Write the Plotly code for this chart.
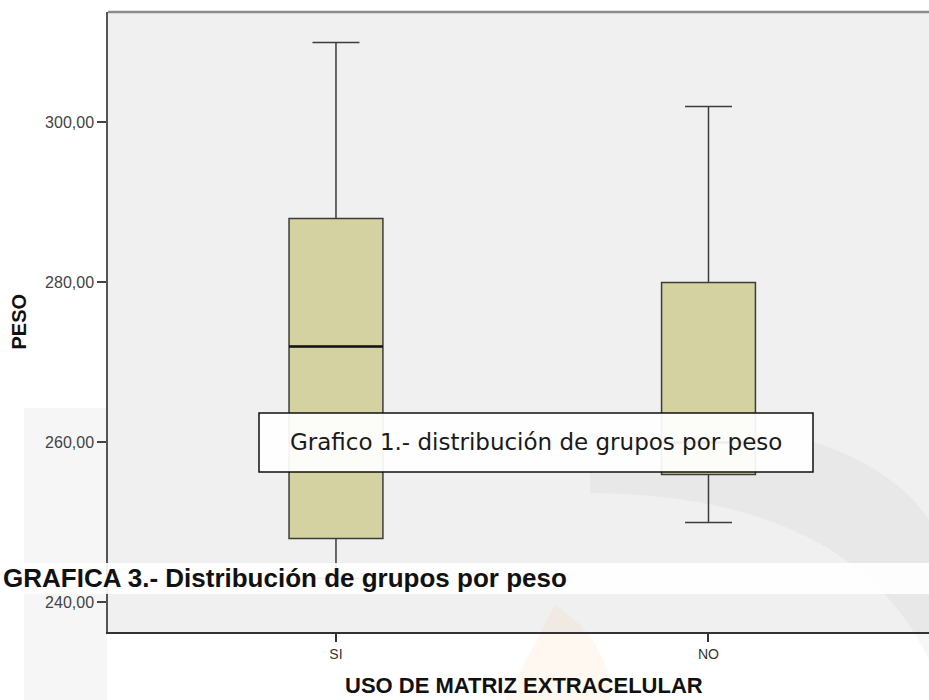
import plotly.graph_objects as go

# ---- data ----
categories = ["SI", "NO"]
upper_whisker = [310, 302]
q3_values = [288, 280]
median_values = [272, 260]
q1_values = [248, 256]
lower_whisker = [243, 250]
y_tick_values = [240, 260, 280, 300]
y_tick_labels = ["240,00", "260,00", "280,00", "300,00"]

W, H = 929, 700
ML, MR, MT, MB = 108, 0, 12, 68
PW = W - ML - MR
PH = H - MT - MB


def px(x):
    return (x - ML) / PW


def py(y):
    return (H - MB - y) / PH


box_width = 0.252
xpos = list(range(len(categories)))

fig = go.Figure()
fig.add_trace(go.Box(
    x=xpos,
    q1=q1_values, median=median_values, q3=q3_values,
    lowerfence=lower_whisker, upperfence=upper_whisker,
    width=box_width, whiskerwidth=0.5,
    fillcolor="#D5D2A2",
    line=dict(color="#3C3C3C", width=1.5),
    boxpoints=False, hoverinfo="skip", showlegend=False,
))
for i, m in zip(xpos, median_values):
    fig.add_trace(go.Scatter(
        x=[i - box_width / 2, i + box_width / 2], y=[m, m],
        mode="lines", line=dict(color="#151515", width=2.5),
        hoverinfo="skip", showlegend=False,
    ))

shapes = []
# plot background
shapes.append(dict(type="rect", xref="paper", yref="paper", x0=0, x1=1, y0=0, y1=1,
                   fillcolor="#F0F0F0", line=dict(width=0), layer="below"))
# faint watermark pieces
shapes.append(dict(type="rect", xref="paper", yref="paper", x0=px(24), x1=px(107),
                   y0=py(700), y1=py(408), fillcolor="rgba(0,0,0,0.035)",
                   line=dict(width=0), layer="below"))
shapes.append(dict(type="path", xref="paper", yref="paper",
                   path="M {} {} Q {} {} {} {} L {} {} Q {} {} {} {} Z".format(
                       px(590), py(413), px(860), py(415), px(929), py(520),
                       px(929), py(660), px(850), py(495), px(590), py(493)),
                   fillcolor="rgba(0,0,0,0.03)", line=dict(width=0), layer="below"))
shapes.append(dict(type="path", xref="paper", yref="paper",
                   path="M {} {} Q {} {} {} {} L {} {} Z".format(
                       px(555), py(605), px(610), py(640), px(610), py(700), px(505), py(700)),
                   fillcolor="rgba(255,170,60,0.08)", line=dict(width=0), layer="below"))
# top border of frame
shapes.append(dict(type="line", xref="paper", yref="paper", x0=0, x1=1, y0=1, y1=1,
                   line=dict(color="#8C8C8C", width=2.5), layer="above"))
# caption text box
shapes.append(dict(type="rect", xref="paper", yref="paper",
                   x0=px(259), x1=px(813), y0=py(472), y1=py(413),
                   fillcolor="rgba(255,255,255,0.93)", line=dict(color="#111111", width=1.5),
                   layer="above"))
# white band behind second caption
shapes.append(dict(type="rect", xref="paper", yref="paper",
                   x0=px(0), x1=1, y0=py(594), y1=py(563),
                   fillcolor="rgba(255,255,255,0.9)", line=dict(width=0), layer="above"))

annotations = [
    dict(text="Grafico 1.- distribución de grupos por peso", xref="paper", yref="paper",
         x=px(536), y=py(442), xanchor="center", yanchor="middle", showarrow=False,
         font=dict(family="DejaVu Sans", size=23, color="#1A1A1A")),
    dict(text="<b>GRAFICA 3.- Distribución de grupos por peso</b>", xref="paper", yref="paper",
         x=px(1), y=py(578), xanchor="left", yanchor="middle", showarrow=False,
         font=dict(family="Liberation Sans, Arial", size=26, color="#111111")),
    dict(text="<b>PESO</b>", xref="paper", yref="paper", x=px(18), y=py(321.5),
         xanchor="center", yanchor="middle", textangle=-90, showarrow=False,
         font=dict(family="Liberation Sans, Arial", size=20, color="#111111")),
    dict(text="<b>USO DE MATRIZ EXTRACELULAR</b>", xref="paper", yref="paper",
         x=px(523.5), y=py(685), xanchor="center", yanchor="middle", showarrow=False,
         font=dict(family="Liberation Sans, Arial", size=22, color="#111111")),
]

fig.update_layout(
    width=W, height=H,
    margin=dict(l=ML, r=MR, t=MT, b=MB, pad=0),
    paper_bgcolor="white", plot_bgcolor="rgba(0,0,0,0)",
    shapes=shapes, annotations=annotations,
    showlegend=False,
)
fig.update_xaxes(
    range=[-0.612, 1 + (W - 708.5) / 372.5],
    tickvals=xpos, ticktext=categories,
    ticks="outside", ticklen=8, tickwidth=1.5, tickcolor="#333333",
    tickfont=dict(family="Liberation Sans, Arial", size=14, color="#333333"),
    showline=True, linecolor="#333333", linewidth=1.5,
    showgrid=False, zeroline=False, fixedrange=True,
)
fig.update_yaxes(
    range=[236.3, 313.8],
    tickvals=y_tick_values, ticktext=y_tick_labels,
    ticks="outside", ticklen=9, tickwidth=2, tickcolor="#444444",
    tickfont=dict(family="Liberation Sans, Arial", size=16, color="#444444"),
    showline=True, linecolor="#555555", linewidth=1.5,
    showgrid=False, zeroline=False, fixedrange=True,
)

fig.write_html("out.html")
